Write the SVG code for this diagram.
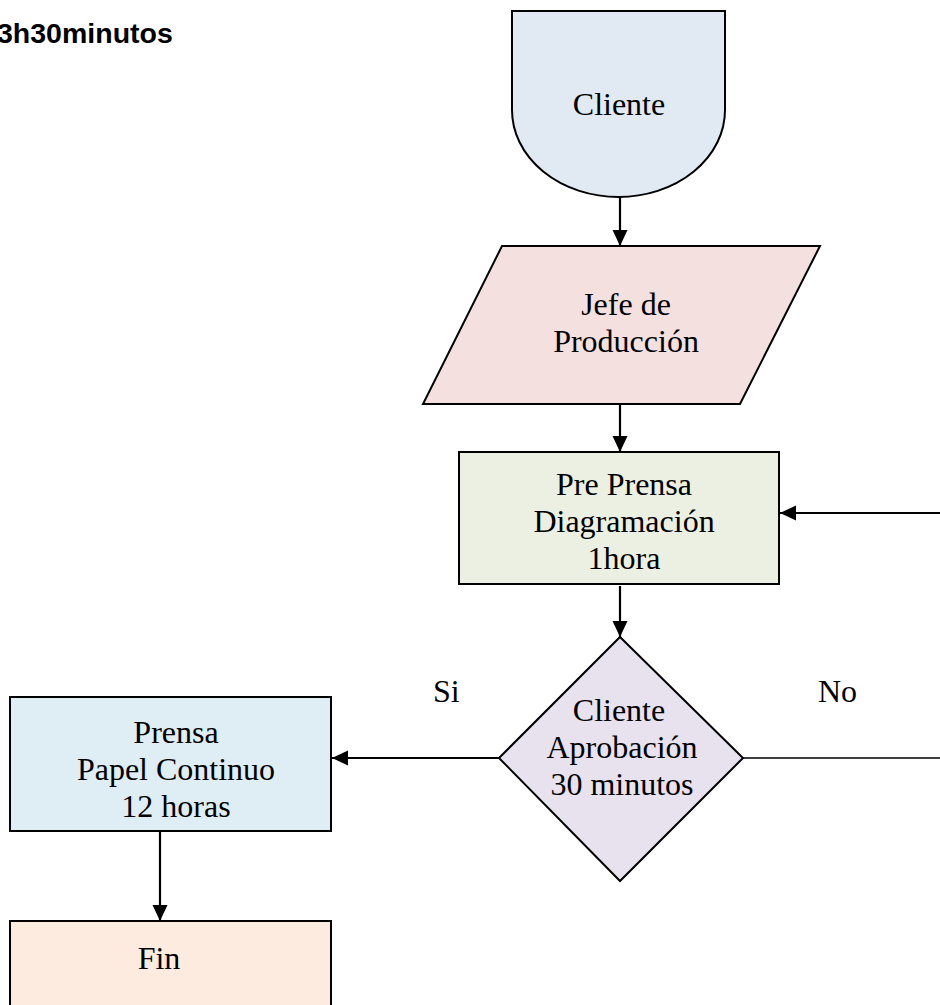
<svg xmlns="http://www.w3.org/2000/svg" width="940" height="1005" viewBox="0 0 940 1005">
  <style>
    .shape { stroke: #000; stroke-width: 2; }
    .lbl { font-family: "Liberation Serif", "Times New Roman", serif; font-size: 32px; fill: #000; text-anchor: middle; }
    .side { font-family: "Liberation Serif", "Times New Roman", serif; font-size: 32px; fill: #000; }
    .title { font-family: "Liberation Sans", Arial, sans-serif; font-size: 28.5px; font-weight: bold; fill: #000; }
    .conn { stroke: #000; stroke-width: 2.2; fill: none; }
    .thin { stroke: #000; stroke-width: 1.5; fill: none; }
  </style>
  <defs>
    <marker id="arrow" markerUnits="userSpaceOnUse" markerWidth="17" markerHeight="17" viewBox="0 0 17 17" refX="16" refY="8.5" orient="auto">
      <path d="M0,1 L16,8.5 L0,16 Z" fill="#000"/>
    </marker>
  </defs>

  <rect width="940" height="1005" fill="#fff"/>

  <text class="title" x="-3" y="43">3h30minutos</text>

  <!-- flow connectors -->
  <g id="connectors">
    <line class="conn" x1="620" y1="197" x2="620" y2="246" marker-end="url(#arrow)"/>
    <line class="conn" x1="620" y1="405" x2="620" y2="452" marker-end="url(#arrow)"/>
    <line class="conn" x1="620" y1="586" x2="620" y2="637" marker-end="url(#arrow)"/>
    <line class="conn" x1="499" y1="758" x2="332" y2="758" marker-end="url(#arrow)"/>
    <line class="thin" x1="743" y1="758" x2="945" y2="758"/>
    <line class="conn" x1="945" y1="513" x2="780" y2="513" marker-end="url(#arrow)"/>
    <line class="conn" x1="160" y1="832" x2="160" y2="921" marker-end="url(#arrow)"/>
    <text class="side" x="433" y="702">Si</text>
    <text class="side" x="818" y="702">No</text>
  </g>

  <g id="cliente">
    <path class="shape" fill="#E1E9F3" d="M512,11 H725 V110 A106.5,87 0 0 1 512,110 Z"/>
    <text class="lbl" x="619" y="115">Cliente</text>
  </g>

  <g id="jefe-produccion">
    <polygon class="shape" fill="#F3E0DF" points="502,246 820,246 740,404 423,404"/>
    <text class="lbl" x="626" y="315">Jefe de</text>
    <text class="lbl" x="626" y="352">Producción</text>
  </g>

  <g id="pre-prensa">
    <rect class="shape" fill="#ECF0E2" x="459" y="452" width="320" height="132"/>
    <text class="lbl" x="624" y="495">Pre Prensa</text>
    <text class="lbl" x="624" y="532">Diagramación</text>
    <text class="lbl" x="624" y="569">1hora</text>
  </g>

  <g id="aprobacion">
    <polygon class="shape" fill="#E7E2EE" points="620,637 743,758 620,881 499,758"/>
    <text class="lbl" x="619" y="721">Cliente</text>
    <text class="lbl" x="622" y="758">Aprobación</text>
    <text class="lbl" x="622" y="795">30 minutos</text>
  </g>

  <g id="prensa">
    <rect class="shape" fill="#DFEDF4" x="10" y="697" width="321" height="134"/>
    <text class="lbl" x="176" y="743">Prensa</text>
    <text class="lbl" x="176" y="780">Papel Continuo</text>
    <text class="lbl" x="176" y="817">12 horas</text>
  </g>

  <g id="fin">
    <rect class="shape" fill="#FDEBDF" x="10" y="921" width="321" height="100"/>
    <text class="lbl" x="159" y="969">Fin</text>
  </g>
</svg>
